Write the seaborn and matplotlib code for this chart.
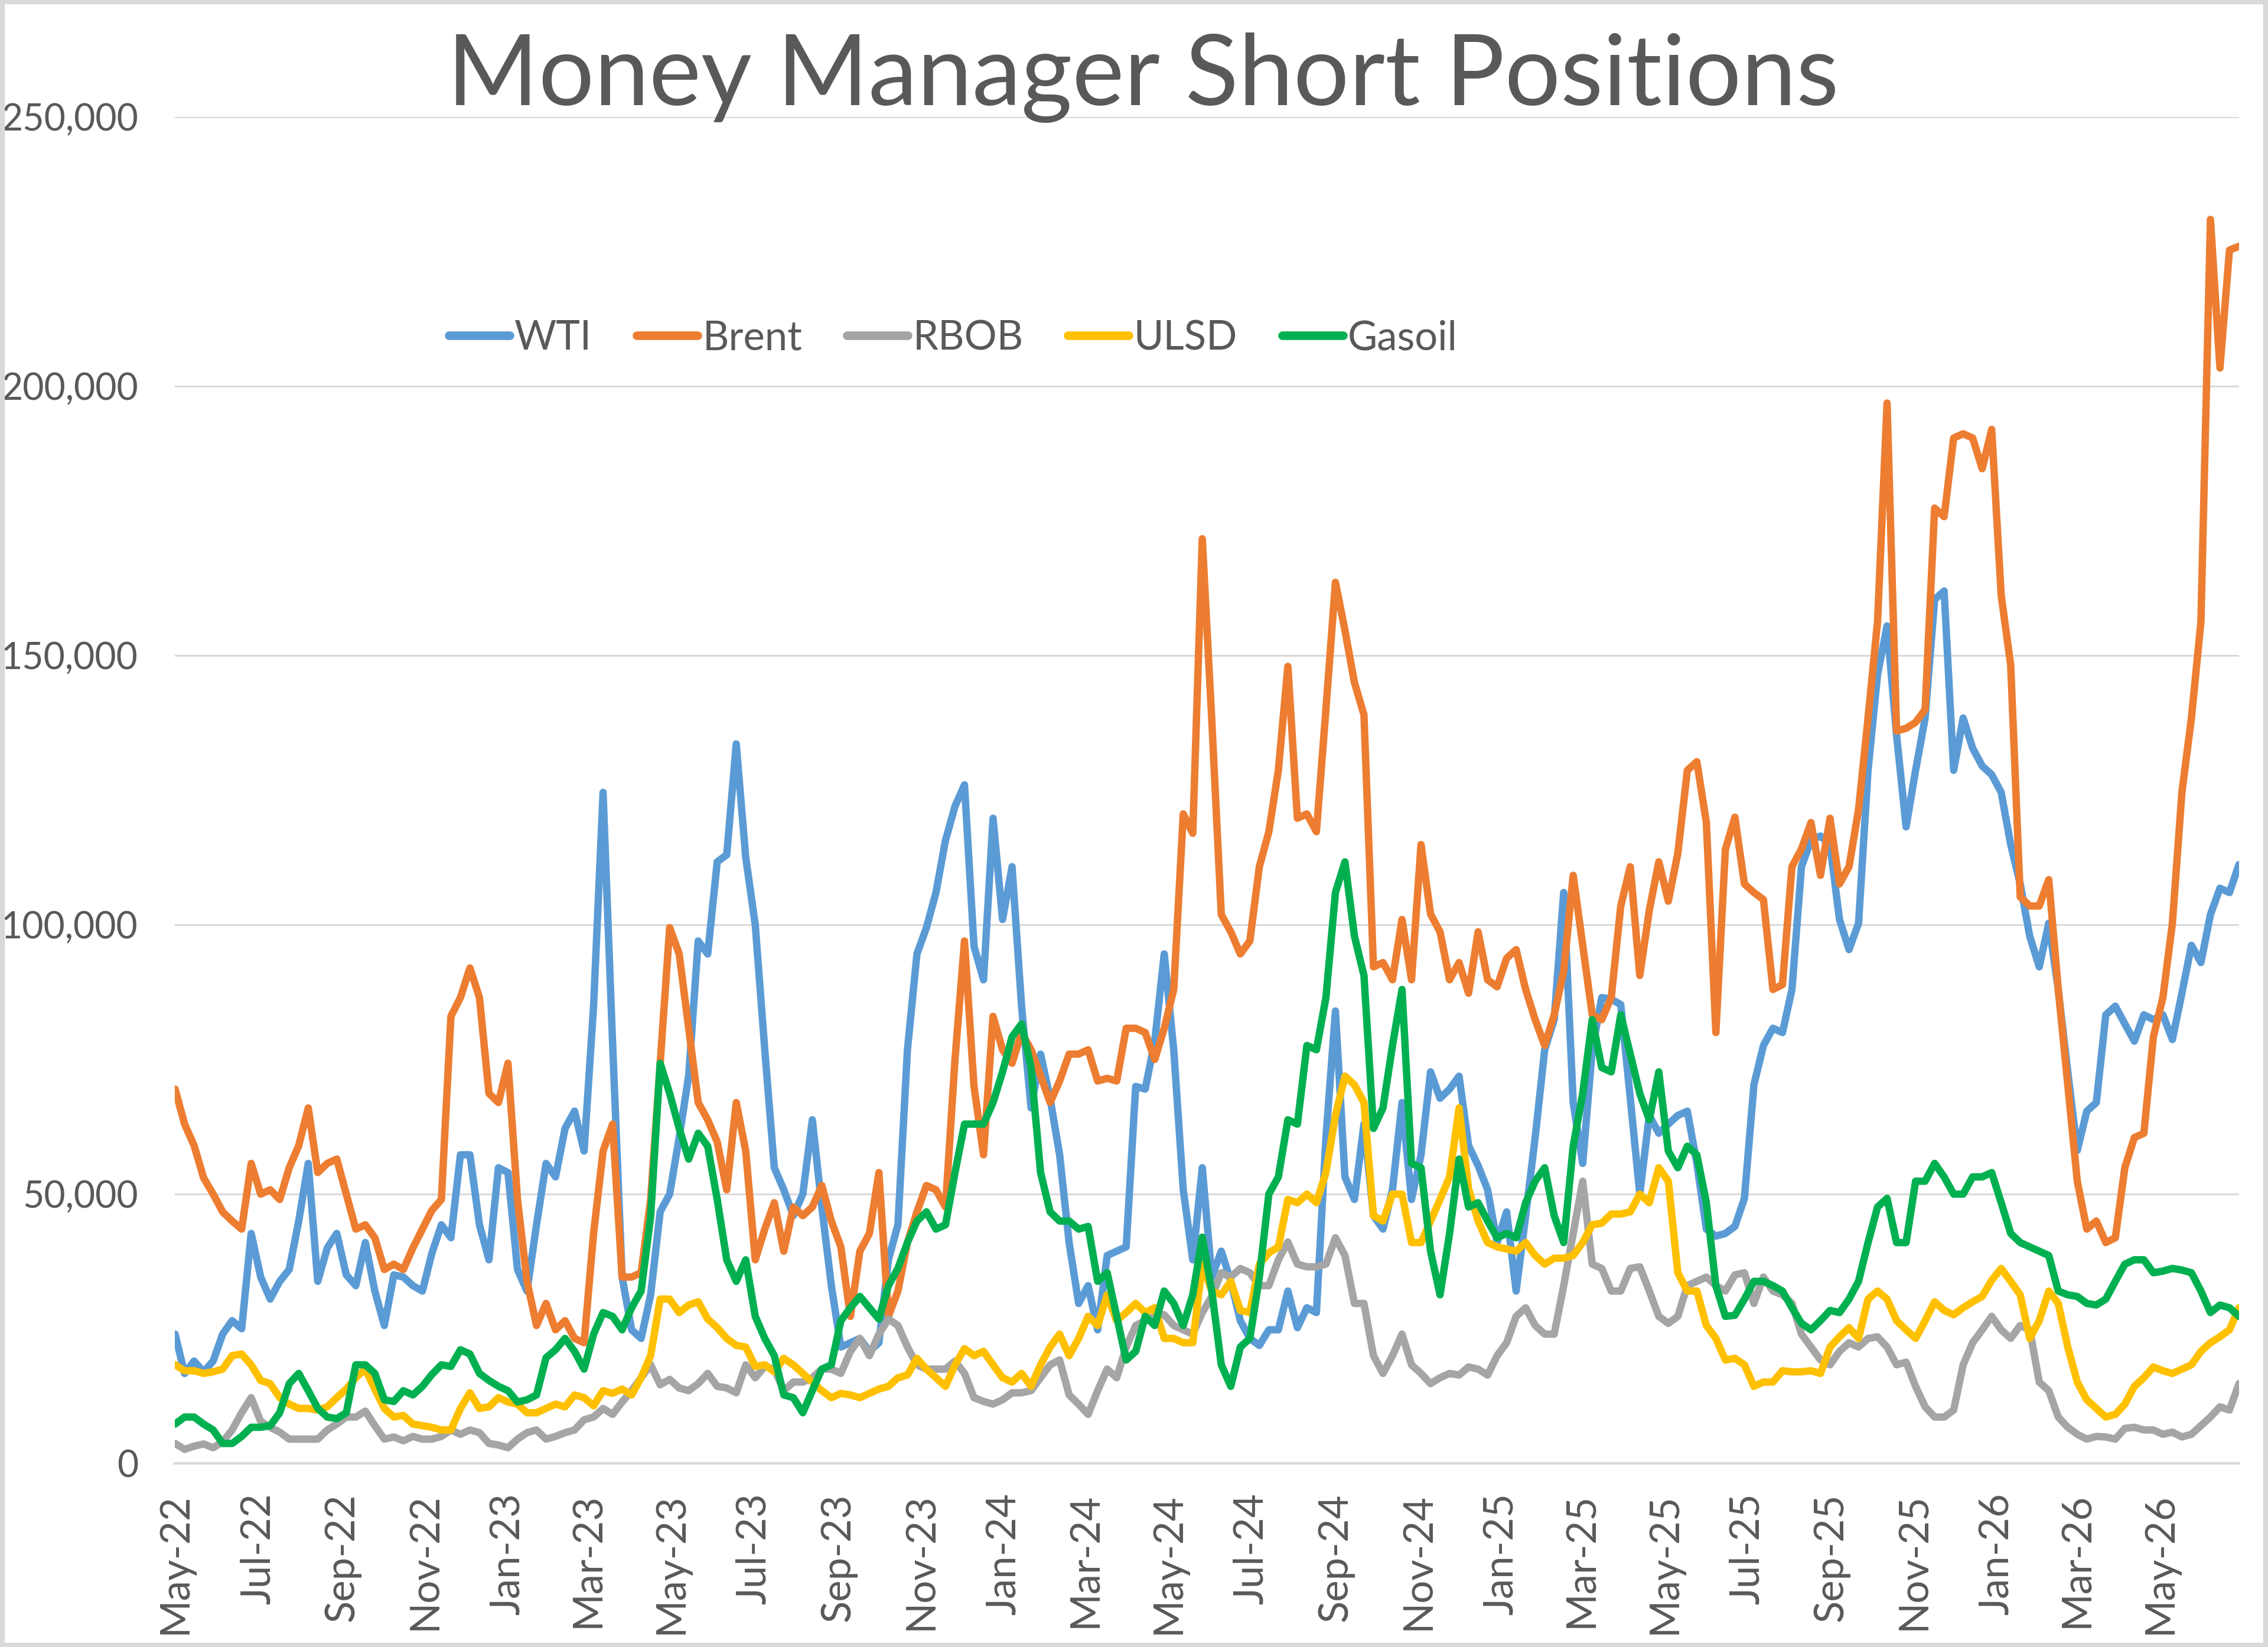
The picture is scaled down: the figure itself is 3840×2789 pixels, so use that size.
# Import libraries
import matplotlib
matplotlib.use('Agg')
import matplotlib.pyplot as plt
import matplotlib.dates as mdates
from matplotlib.patches import Rectangle
import pandas as pd
import seaborn as sns

# Weekly money manager short positions (thousand contracts)
wti = [
    24, 16.7, 19, 17, 19, 24, 26.5, 25, 42.7, 34.6,
    30.5, 33.8, 36, 45, 55.7, 33.8, 40, 42.7, 35, 33,
    41, 32, 25.6, 35, 34.6, 33, 32, 39,
    44.3, 41.9, 57.3, 57.3, 44.3, 37.8, 54.9, 54, 36, 32,
    44.3, 55.7, 53.2, 62.2, 65.4, 58, 84.9, 124.6, 78, 34.6,
    24.8, 23.2, 31.3, 46.7, 50, 60.5, 72,
    97, 94.6, 111.7, 113, 133.6, 112.5, 100, 76.8, 54.9, 50.8,
    46, 50, 63.8, 47.6, 33, 21.6, 22.4, 23.2, 20.8, 22.4,
    37.8, 44.3, 76.8, 94.6, 99.5, 106, 115.7, 122,
    126, 96, 89.8, 119.8, 101, 110.8, 84.9, 66, 76, 67.8,
    57.3, 41, 29.7, 33, 24.8, 38.6, 39.4, 40.2, 70, 69.5,
    78.4, 94.6, 76.8, 50.8, 37.8, 54.9, 34.6,
    39.4, 33.8, 26.5, 23.2, 21.9, 24.8, 24.8, 32, 25.2, 28.9,
    28, 60.5, 84, 53.2, 49, 63, 46, 43.5, 50.8, 67,
    49, 57.3, 72.7, 67.8, 69.5, 71.9, 59,
    55.3, 50.8, 41, 46.7, 32, 46, 60.5, 76.8, 82.4, 106,
    67, 55.7, 76.8, 86.5, 86.2, 85.2, 67.8, 50, 64.6, 61.3,
    63, 64.6, 65.4, 55.7, 43.5, 42.2, 42.7, 44,
    49.2, 70.3, 77.6, 80.8, 80, 88, 110.8, 115.7, 116.5, 114.9,
    101, 95.4, 100.3, 128.7, 146.5, 155.5, 135.2, 118.2, 128.7, 138.4,
    160.4, 162, 128.7, 138.4, 132.8, 129.5, 127.9,
    124.6, 114.9, 107.6, 97.9, 92.2, 100.3, 88, 72.7, 58.1, 65.4,
    67, 83.3, 84.9, 81.6, 78.4, 83.3, 82.4, 83.3, 78.7, 87.3,
    96.2, 93, 101.9, 106.8, 106, 111.2,
]

brent = [
    69.5, 63, 59, 53, 50, 46.7, 45, 43.5, 55.7, 50,
    50.8, 49, 54.9, 59, 66, 54, 55.7, 56.5, 50, 43.5,
    44.3, 41.9, 36, 37, 36, 40, 43.5, 47,
    49, 83, 86.5, 92, 86.5, 68.7, 67, 74.3, 49, 33.8,
    25.6, 29.7, 24.8, 26.5, 23.2, 22.4, 42.7, 58, 63, 34.6,
    34.6, 35.4, 49, 74.3, 99.5, 94.6, 80.8,
    67, 63.8, 59.7, 50.8, 67, 58, 37.8, 43.5, 48.4, 39.4,
    47.6, 46, 47.6, 51.6, 45, 40.2, 27.3, 39.4, 42.7, 54,
    27.3, 32, 41, 46.7, 51.6, 50.8, 47.6, 75,
    97, 70, 57.3, 83, 76.8, 74.3, 80, 76.8, 72, 67,
    71, 76, 76, 76.8, 71, 71.5, 71, 80.8, 80.8, 80,
    75, 80.8, 88, 120.6, 117, 171.7, 138,
    101.9, 98.7, 94.6, 97, 110.8, 117.3, 128.7, 148, 119.8, 120.6,
    117.3, 140, 163.6, 154.7, 145, 139, 92.2, 93, 89.8, 101,
    89.8, 114.9, 102, 98.7, 89.8, 93, 87.3,
    98.7, 89.8, 88.5, 93.8, 95.4, 88, 82.4, 77.6, 83.3, 91.4,
    109.2, 96.2, 83.3, 82.4, 86.5, 103.5, 110.8, 90.6, 102.7, 111.7,
    104.4, 113.3, 128.7, 130.3, 119, 80, 114, 120,
    107.6, 106, 104.7, 88, 88.9, 110.8, 114.1, 119, 109.2, 119.8,
    107.6, 110.8, 121.4, 138.4, 156.3, 196.9, 136, 136.5, 137.6, 140,
    177.4, 175.8, 190.4, 191.2, 190.4, 184.7, 192,
    161.2, 148.2, 105.2, 103.5, 103.5, 108.4, 88, 70.3, 52.4, 43.5,
    45, 41, 41.9, 54.9, 60.5, 61.3, 79.2, 86.5, 100.3, 124.6,
    138.4, 156.3, 231, 203.4, 225.3, 226,
]

rbob = [
    3.7, 2.6, 3.2, 3.6, 2.9, 4, 6.2, 9.4, 12.2, 7.8,
    6.7, 5.8, 4.5, 4.5, 4.5, 4.5, 6.2, 7.3, 8.6, 8.6,
    9.7, 7, 4.5, 4.9, 4.2, 5, 4.5, 4.5,
    5, 6.2, 5.4, 6.2, 5.7, 3.7, 3.4, 2.9, 4.5, 5.7,
    6.2, 4.5, 5, 5.7, 6.2, 8.1, 8.6, 10.2, 9.1, 11.4,
    13.5, 15.9, 18.3, 14.6, 15.6, 14, 13.5,
    14.8, 16.7, 14.3, 14, 13.1, 18.3, 15.9, 18, 17.5, 13.5,
    15.1, 15.1, 15.9, 17.5, 17.5, 16.7, 20.8, 23.2, 20, 24,
    26.8, 25.6, 21.6, 18.3, 17.5, 17.5, 17.5, 19,
    16.7, 12.2, 11.5, 11, 11.8, 13.1, 13.1, 13.5, 15.9, 18.3,
    19.2, 12.7, 11, 9.1, 13.5, 17.5, 15.9, 21.6, 25.6, 26.5,
    27.3, 27.6, 25.6, 24.8, 24, 28, 31,
    35.4, 34.6, 36.2, 35.4, 33, 33, 37.8, 41.1, 37, 36.5,
    36.5, 37, 41.9, 38.6, 29.7, 29.7, 20, 16.7, 20, 24,
    18.3, 16.7, 14.8, 15.9, 16.7, 16.4, 17.9,
    17.5, 16.4, 20, 22.4, 27.3, 28.9, 25.6, 24, 24, 33,
    42.7, 52.4, 37, 36.2, 32, 32, 36.2, 36.5, 32, 27.3,
    26, 27.3, 33, 33.8, 34.6, 33, 32, 35,
    35.4, 29.7, 34.6, 32, 31.3, 29.7, 24, 21.6, 19.2, 18.3,
    20.8, 22.4, 21.6, 23.2, 23.5, 21.6, 18.3, 18.8, 14.3, 10.5,
    8.6, 8.6, 9.9, 18.3, 22.4, 24.8, 27.3,
    24.8, 23.2, 25.6, 24.8, 15.1, 13.5, 8.6, 6.7, 5.4, 4.5,
    5, 4.9, 4.5, 6.5, 6.7, 6.2, 6.2, 5.4, 5.8, 4.9,
    5.4, 7, 8.6, 10.5, 9.9, 14.8,
]

ulsd = [
    18.3, 17.2, 17.2, 16.7, 17, 17.5, 20, 20.3, 18.3, 15.4,
    14.8, 12.2, 11, 10.2, 10.2, 9.9, 10.5, 12.2, 13.8, 15.9,
    17.5, 13.8, 10.2, 8.6, 8.9, 7.3, 7, 6.7,
    6.2, 6.2, 10.2, 13.1, 10.2, 10.5, 12.2, 11.4, 11, 9.4,
    9.4, 10.2, 11, 10.5, 12.7, 12.2, 10.7, 13.5, 13, 13.8,
    12.7, 15.9, 20, 30.5, 30.5, 28, 29.4,
    30, 26.8, 25.2, 23.2, 21.9, 21.6, 18, 18.3, 17, 19.5,
    18.3, 16.7, 15.1, 13.5, 12.2, 13, 12.7, 12.2, 13, 13.8,
    14.3, 15.9, 16.4, 19.5, 17.5, 15.9, 14.3, 18.3,
    21.3, 20, 20.8, 18.3, 15.9, 15.1, 16.7, 14.3, 18.3, 21.6,
    24, 20, 23.2, 27.3, 25.6, 31.3, 26.5, 28, 29.7, 28,
    28.9, 23.2, 23.2, 22.4, 22.4, 37, 32,
    31.3, 33.8, 28.4, 28, 37, 39.1, 40.2, 49, 48.4, 50,
    48.4, 54, 64.6, 71.9, 70.3, 67, 46, 45, 50, 50,
    41, 41, 45, 49, 53.2, 66, 51,
    45, 41, 40.2, 39.8, 39.4, 41, 38.6, 37, 38.1, 38.1,
    38.6, 41, 44.3, 44.6, 46.3, 46.3, 46.7, 50, 48.4, 54.9,
    52.4, 35.4, 32, 32, 25.6, 23.2, 19.2, 19.5,
    18.3, 14.3, 15.1, 15.1, 17.2, 17, 17, 17.2, 16.7, 21.6,
    23.5, 25.2, 23.2, 30.5, 32, 30.5, 26.5, 24.8, 23.2, 26.5,
    30, 28.4, 27.6, 28.9, 30, 31, 34,
    36.2, 33.8, 31.3, 23.2, 26.5, 32, 29.7, 21.6, 15.1, 11.8,
    10.2, 8.6, 9.1, 11, 14.3, 15.9, 17.9, 17.2, 16.7, 17.5,
    18.3, 20.8, 22.4, 23.5, 24.8, 28.9,
]

gasoil = [
    7.3, 8.6, 8.6, 7.3, 6.2, 3.7, 3.7, 5, 6.7, 6.7,
    7, 9.4, 14.8, 16.7, 13.5, 10.2, 8.6, 8.3, 9.4, 18.3,
    18.3, 16.7, 11.8, 11.5, 13.5, 12.7, 14.3, 16.5,
    18.3, 18, 21.1, 20.3, 16.7, 15.4, 14.3, 13.5, 11.4, 11.8,
    12.7, 19.6, 21.1, 23.2, 20.8, 17.5, 24, 28, 27.3, 24.8,
    28.9, 32, 45.9, 74.3, 68.7, 62.2, 56.5,
    61.3, 58.9, 49, 37.8, 33.8, 37.8, 27.3, 23.2, 20, 12.7,
    12.2, 9.4, 13.5, 17.5, 18.3, 26.5, 28.9, 31, 28.9, 26.8,
    33, 36.2, 41, 45, 46.7, 43.5, 44.3, 54,
    63, 63, 63, 67, 72.7, 79.2, 81.6, 73.5, 54, 46.7,
    45, 45, 43.5, 44, 33.8, 35.4, 27.3, 19.2, 20.8, 27.3,
    25.6, 32, 29.7, 25.6, 31.3, 42, 32,
    18.3, 14.3, 21.6, 23.2, 34.6, 50, 53.2, 63.8, 63, 77.6,
    76.8, 86.5, 106, 111.7, 97.9, 90.6, 62.2, 66, 77.6, 88,
    55.7, 54.9, 39.4, 31.3, 42.7, 56.5, 47.6,
    48.4, 45, 41.9, 42.7, 41.9, 48.4, 52.4, 54.9, 46, 41,
    58.9, 68.7, 82.4, 73.5, 72.7, 83.3, 76, 68.7, 63.8, 72.7,
    58, 54.9, 58.9, 57.3, 48.4, 33, 27.3, 27.5,
    30.5, 33.8, 33.8, 33, 32, 28.9, 26, 24.8, 26.5, 28.4,
    28, 30.5, 33.8, 41, 47.6, 49.2, 41, 41, 52.4, 52.4,
    55.7, 53.2, 50, 50, 53.2, 53.2, 54,
    48.4, 42.7, 41, 40.2, 39.4, 38.6, 32, 31.3, 31, 29.7,
    29.4, 30.5, 33.8, 37, 37.8, 37.8, 35.4, 35.7, 36.2, 35.9,
    35.4, 32, 28, 29.4, 28.9, 27.3,
]

series_names = ['WTI', 'Brent', 'RBOB', 'ULSD', 'Gasoil']
series_colors = ['#5B9BD5', '#ED7D31', '#A5A5A5', '#FFC000', '#00B050']

# Weekly report dates
dates = pd.date_range('2022-05-03', periods=len(wti), freq='7D')

frames = []
for name, vals in zip(series_names, [wti, brent, rbob, ulsd, gasoil]):
    frames.append(pd.DataFrame({'date': dates[:len(vals)],
                                'value': [v * 1000 for v in vals],
                                'series': name}))
df = pd.concat(frames, ignore_index=True)

# Style
sns.set_style('white')
plt.rcParams['font.family'] = ['Lato', 'DejaVu Sans']
text_color = '#595959'
grid_color = '#D9D9D9'

fig = plt.figure(figsize=(12.8, 9.2967), dpi=300)
ax = fig.add_axes([0.0772, 0.1115, 0.9100, 0.8174])

sns.lineplot(data=df, x='date', y='value', hue='series', hue_order=series_names,
             palette=series_colors, linewidth=3.0, ax=ax)

# Axes
ax.set_ylim(0, 250000)
ax.set_yticks(range(0, 250001, 50000))
ax.set_yticklabels([f'{v:,}' for v in range(0, 250001, 50000)])
ax.set_xlim(mdates.date2num(dates[0]), mdates.date2num(dates[-1]))
ticks = pd.date_range(dates[0], periods=25, freq=pd.DateOffset(months=2))
ax.set_xticks(mdates.date2num(ticks))
ax.set_xticklabels([t.strftime('%b-%y') for t in ticks], rotation=90)
ax.set_xlabel('')
ax.set_ylabel('')

ax.grid(axis='y', color=grid_color, linewidth=0.7)
ax.set_axisbelow(True)
for side in ['top', 'right', 'left']:
    ax.spines[side].set_visible(False)
ax.spines['bottom'].set_color(grid_color)
ax.spines['bottom'].set_linewidth(1.0)
ax.tick_params(axis='x', length=6, width=1.0, color=grid_color, pad=6,
               labelsize=16.5, labelcolor=text_color)
ax.tick_params(axis='y', length=0, pad=15, labelsize=15, labelcolor=text_color)

# Legend inside plot
handles, labels = ax.get_legend_handles_labels()
leg = ax.legend(handles, labels, loc='center', bbox_to_anchor=(0.377, 0.8357),
                ncol=5, frameon=False, fontsize=16.5, handlelength=1.5,
                handletextpad=0.12, columnspacing=1.1)
for t in leg.get_texts():
    t.set_color(text_color)
for line in leg.get_lines():
    line.set_linewidth(3.5)

# Title
fig.text(0.504, 0.953, 'Money Manager Short Positions', ha='center', va='center',
         fontsize=40, color=text_color)

# Chart border
fig.patches.append(Rectangle((0.001, 0.001), 0.998, 0.998, transform=fig.transFigure,
                             fill=False, edgecolor=grid_color, linewidth=2))

fig.savefig('out.png', dpi=300)
